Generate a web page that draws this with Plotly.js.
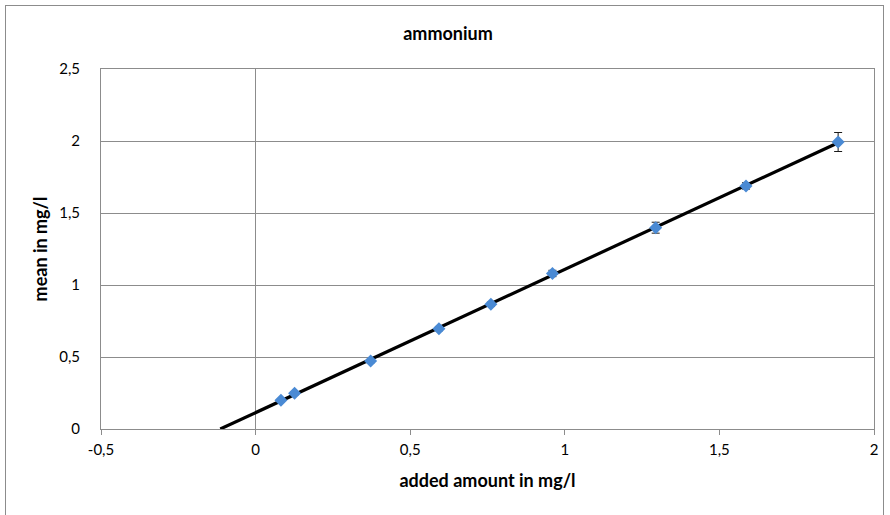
<!DOCTYPE html>
<html>
<head>
<meta charset="utf-8">
<script src="https://cdn.plot.ly/plotly-3.0.1.min.js"></script>
<style>
  html, body { margin: 0; padding: 0; background: #fff; }
  #wrap { position: relative; width: 890px; height: 515px; overflow: hidden; }
  #chart { width: 890px; height: 515px; }
  #frame { position: absolute; left: 5px; top: 5px; width: 879px; height: 520px;
           border: 1px solid #8c8c8c; pointer-events: none; box-sizing: border-box; }
</style>
</head>
<body>
<div id="wrap">
  <div id="chart"></div>
  <div id="frame"></div>
</div>
<script>
// Data
const addedAmount = [0.082, 0.126, 0.372, 0.593, 0.761, 0.960, 1.294, 1.586, 1.884];
const meanValue   = [0.200, 0.248, 0.472, 0.697, 0.866, 1.080, 1.398, 1.688, 1.993];
const errorValue  = [0.010, 0.012, 0.012, 0.015, 0.015, 0.022, 0.038, 0.022, 0.066];

const xTickValues = [-0.5, 0, 0.5, 1, 1.5, 2];
const xTickLabels = ["-0,5", "0", "0,5", "1", "1,5", "2"];
const yTickValues = [0, 0.5, 1, 1.5, 2, 2.5];
const yTickLabels = ["0", "0,5", "1", "1,5", "2", "2,5"];

const chartTitle = "ammonium";
const xTitle = "added amount in mg/l";
const yTitle = "mean in mg/l";

// Linear trend line (least squares), extended backward to y = 0
const n = addedAmount.length;
const mx = addedAmount.reduce((a, b) => a + b, 0) / n;
const my = meanValue.reduce((a, b) => a + b, 0) / n;
let sxy = 0, sxx = 0;
for (let i = 0; i < n; i++) {
  sxy += (addedAmount[i] - mx) * (meanValue[i] - my);
  sxx += (addedAmount[i] - mx) * (addedAmount[i] - mx);
}
const slope = sxy / sxx;
const intercept = my - slope * mx;
const xStart = -intercept / slope;
const xEnd = Math.max(...addedAmount);
const trendX = [xStart, xEnd];
const trendY = trendX.map(x => slope * x + intercept);

const font = "Lato, 'Open Sans', 'Liberation Sans', sans-serif";

const traces = [
  {
    x: trendX, y: trendY, type: "scatter", mode: "lines",
    line: { color: "#000000", width: 3.2 },
    hoverinfo: "skip", showlegend: false
  },
  {
    x: addedAmount, y: meanValue, type: "scatter", mode: "markers",
    marker: { symbol: "diamond", size: 10, color: "#4A8AD4" },
    error_y: { type: "data", array: errorValue, visible: true,
               color: "#1a1a1a", thickness: 1, width: 4 },
    showlegend: false
  }
];

const layout = {
  width: 890, height: 515,
  margin: { l: 101, r: 16, t: 69, b: 86 },
  paper_bgcolor: "#ffffff", plot_bgcolor: "#ffffff",
  font: { family: font, size: 15, color: "#000000" },
  title: { text: chartTitle, x: 448 / 890, xanchor: "center", y: 1 - 34 / 515, yanchor: "middle",
           font: { family: font, size: 18, color: "#000000", weight: "bold" } },
  xaxis: {
    range: [-0.5, 2], tickmode: "array", tickvals: xTickValues, ticktext: xTickLabels,
    showgrid: false, zeroline: true, zerolinecolor: "#8c8c8c", zerolinewidth: 1,
    showline: true, linecolor: "#8c8c8c", linewidth: 1, mirror: true,
    ticks: "outside", ticklen: 5, tickcolor: "#8c8c8c",
    tickfont: { family: font, size: 15, color: "#000000" },
    ticklabelstandoff: 2,
    title: { text: xTitle, standoff: 17, font: { family: font, size: 18, weight: "bold", color: "#000000" } },
    fixedrange: true
  },
  yaxis: {
    range: [0, 2.5], tickmode: "array", tickvals: yTickValues, ticktext: yTickLabels,
    showgrid: true, gridcolor: "#8c8c8c", gridwidth: 1,
    zeroline: false,
    showline: true, linecolor: "#8c8c8c", linewidth: 1, mirror: true,
    ticks: "", ticklabelstandoff: 17,
    tickfont: { family: font, size: 15, color: "#000000" },
    title: { text: yTitle, standoff: 6, font: { family: font, size: 18, weight: "bold", color: "#000000" } },
    fixedrange: true
  }
};

Plotly.newPlot("chart", traces, layout, { displayModeBar: false, staticPlot: true });
</script>
</body>
</html>
